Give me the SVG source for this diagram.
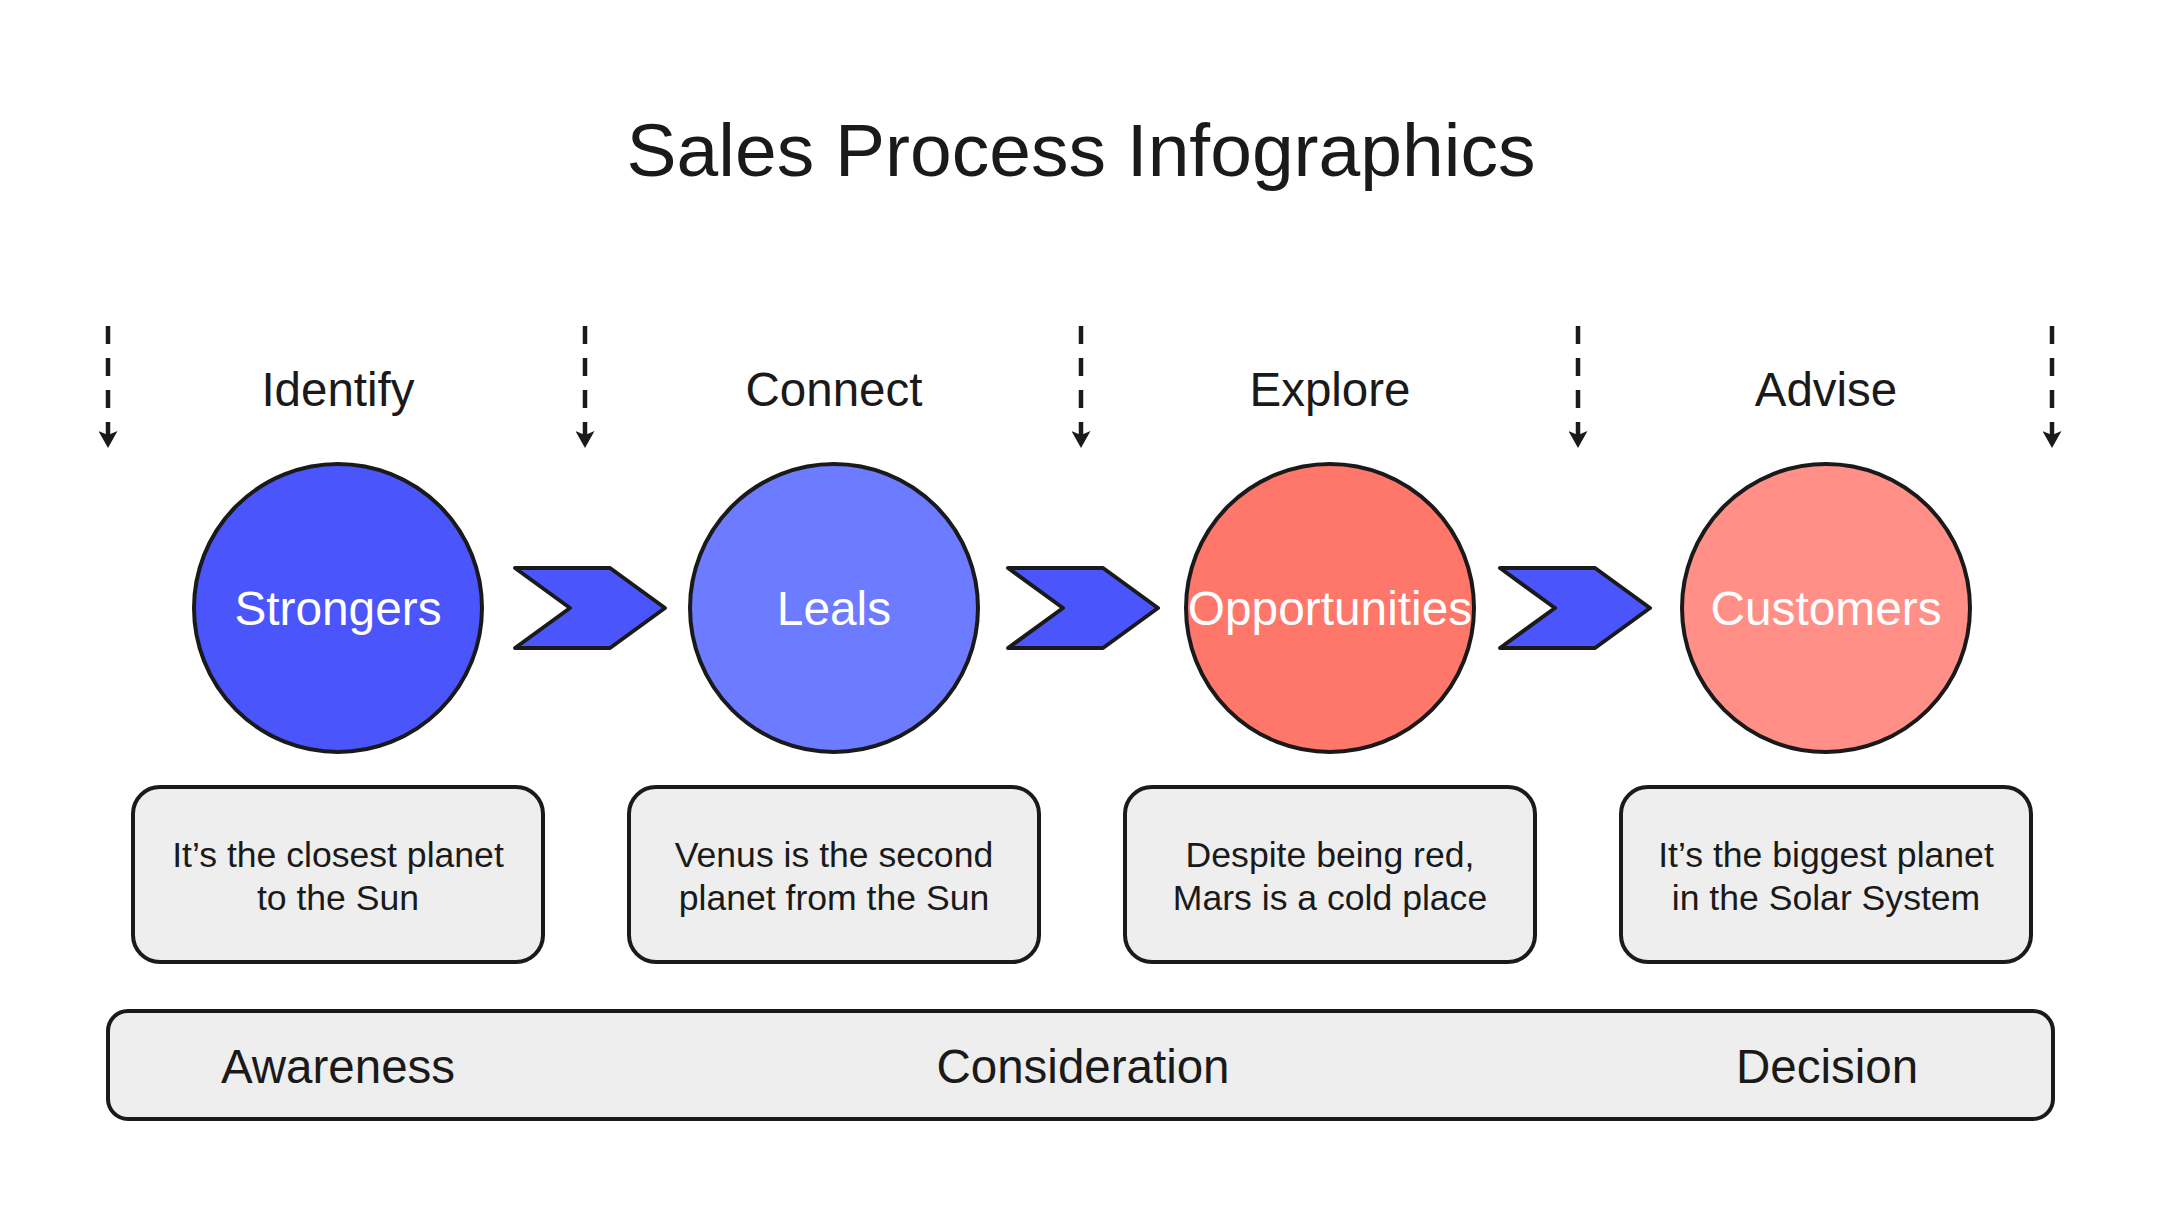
<svg xmlns="http://www.w3.org/2000/svg" width="2160" height="1215" viewBox="0 0 2160 1215">
  <style>
    text { font-family: "Liberation Sans", Arial, sans-serif; fill: #1a1a1a; text-anchor: middle; }
    .title { font-size: 75px; }
    .label { font-size: 47.5px; }
    .ntext { font-size: 47.8px; fill: #ffffff; }
    .desc { font-size: 35.6px; }
    .circle { stroke: #1a1a1a; stroke-width: 4; }
    .box { fill: #eeeeee; stroke: #1a1a1a; stroke-width: 4; }
    .chev { fill: #4b55fc; stroke: #1a1a1a; stroke-width: 4; stroke-linejoin: round; }
    .dash { stroke: #1a1a1a; stroke-width: 4.5; stroke-dasharray: 18 14; fill: none; }
  </style>
  <defs>
    <marker id="ah" markerUnits="userSpaceOnUse" viewBox="0 0 17 19" markerWidth="17" markerHeight="19" refX="17" refY="9.5" orient="auto">
      <path d="M0,0 L17,9.5 L0,19 L4,9.5 Z" fill="#1a1a1a"/>
    </marker>
  </defs>
  <rect width="2160" height="1215" fill="#ffffff"/>

  <text id="title" class="title" x="1081" y="176">Sales Process Infographics</text>

  <g id="connectors">
    <line class="dash" x1="108" y1="326" x2="108" y2="448" marker-end="url(#ah)"/>
    <line class="dash" x1="585" y1="326" x2="585" y2="448" marker-end="url(#ah)"/>
    <line class="dash" x1="1081" y1="326" x2="1081" y2="448" marker-end="url(#ah)"/>
    <line class="dash" x1="1578" y1="326" x2="1578" y2="448" marker-end="url(#ah)"/>
    <line class="dash" x1="2052" y1="326" x2="2052" y2="448" marker-end="url(#ah)"/>
    <polygon class="chev" points="515,568 610,568 665,608 610,648 515,648 570,608"/>
    <polygon class="chev" points="1008,568 1103,568 1158,608 1103,648 1008,648 1063,608"/>
    <polygon class="chev" points="1500,568 1595,568 1650,608 1595,648 1500,648 1555,608"/>
  </g>

  <g id="step-identify">
    <text class="label" x="338" y="406">Identify</text>
    <circle class="circle" cx="338" cy="608" r="144" fill="#4b55fc"/>
    <text class="ntext" x="338" y="625">Strongers</text>
    <rect class="box" x="133" y="787" width="410" height="175" rx="27"/>
    <text class="desc" x="338" y="867">It’s the closest planet</text>
    <text class="desc" x="338" y="910">to the Sun</text>
  </g>

  <g id="step-connect">
    <text class="label" x="834" y="406">Connect</text>
    <circle class="circle" cx="834" cy="608" r="144" fill="#6c7bff"/>
    <text class="ntext" x="834" y="625">Leals</text>
    <rect class="box" x="629" y="787" width="410" height="175" rx="27"/>
    <text class="desc" x="834" y="867">Venus is the second</text>
    <text class="desc" x="834" y="910">planet from the Sun</text>
  </g>

  <g id="step-explore">
    <text class="label" x="1330" y="406">Explore</text>
    <circle class="circle" cx="1330" cy="608" r="144" fill="#ff766a"/>
    <text class="ntext" x="1330" y="625">Opportunities</text>
    <rect class="box" x="1125" y="787" width="410" height="175" rx="27"/>
    <text class="desc" x="1330" y="867">Despite being red,</text>
    <text class="desc" x="1330" y="910">Mars is a cold place</text>
  </g>

  <g id="step-advise">
    <text class="label" x="1826" y="406">Advise</text>
    <circle class="circle" cx="1826" cy="608" r="144" fill="#ff8f87"/>
    <text class="ntext" x="1826" y="625">Customers</text>
    <rect class="box" x="1621" y="787" width="410" height="175" rx="27"/>
    <text class="desc" x="1826" y="867">It’s the biggest planet</text>
    <text class="desc" x="1826" y="910">in the Solar System</text>
  </g>

  <g id="stages">
    <rect class="box" x="108" y="1011" width="1945" height="108" rx="20"/>
    <text class="label" x="338" y="1083">Awareness</text>
    <text class="label" x="1083" y="1083">Consideration</text>
    <text class="label" x="1827" y="1083">Decision</text>
  </g>
</svg>
